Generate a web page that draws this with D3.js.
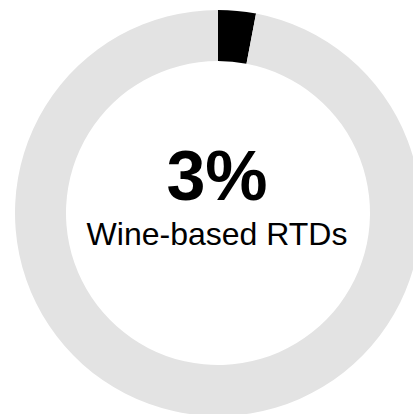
<!DOCTYPE html>
<html>
<head>
<meta charset="utf-8">
<script src="https://cdn.jsdelivr.net/npm/d3@7"></script>
<style>
  html, body { margin: 0; padding: 0; background: #fff; }
  svg { display: block; }
</style>
</head>
<body>
<svg id="chart" width="413" height="414"></svg>
<script>
// Share of wine-based RTDs against the remainder
const categories = ["Wine-based RTDs", "Other"];
const values = [3, 97];
const colors = ["#000000", "#e3e3e3"];
const headline = "3%";
const caption = "Wine-based RTDs";

const svg = d3.select("#chart");
const cx = 218, cy = 213;
const outerR = 203, innerR = 152;

const pie = d3.pie().sort(null).value(d => d)(values);
const arc = d3.arc().innerRadius(innerR).outerRadius(outerR);

const g = svg.append("g").attr("transform", `translate(${cx},${cy})`);
g.selectAll("path")
  .data(pie)
  .join("path")
  .attr("d", arc)
  .attr("fill", (d, i) => colors[i]);

g.append("text")
  .attr("x", -1)
  .attr("y", -13)
  .attr("text-anchor", "middle")
  .attr("font-family", "Liberation Sans, Arial, sans-serif")
  .attr("font-weight", "bold")
  .attr("font-size", 70)
  .attr("fill", "#000")
  .text(headline);

g.append("text")
  .attr("x", -1)
  .attr("y", 32)
  .attr("text-anchor", "middle")
  .attr("font-family", "Liberation Sans, Arial, sans-serif")
  .attr("font-size", 32)
  .attr("fill", "#000")
  .text(caption);
</script>
</body>
</html>
